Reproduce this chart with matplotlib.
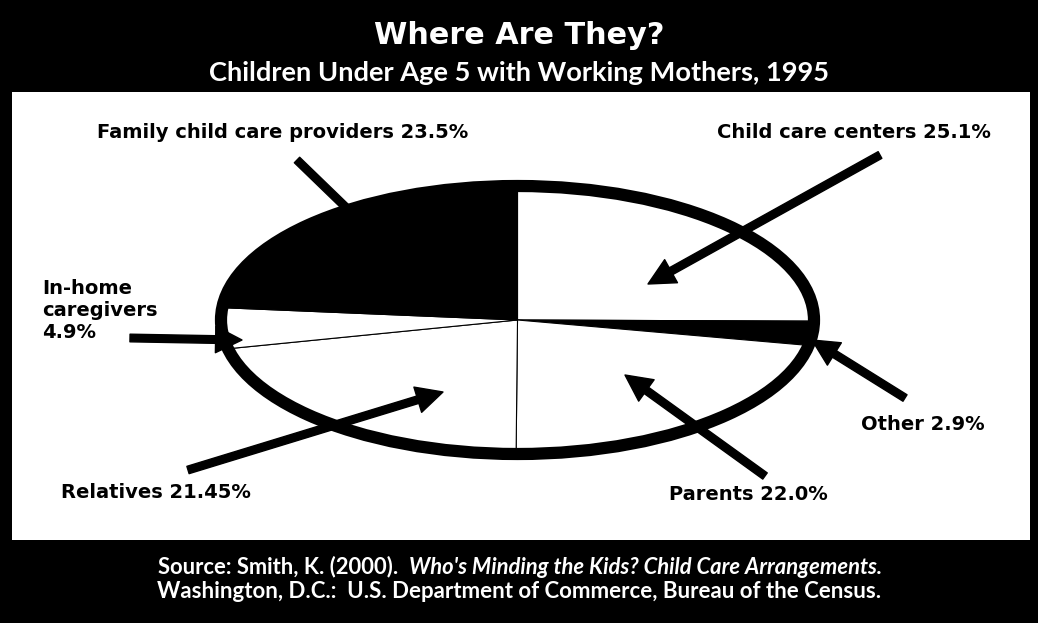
import matplotlib.pyplot as plt
from matplotlib.patches import Rectangle, Circle

# data (clockwise from the top)
categories = ['Child care centers', 'Other', 'Parents', 'Relatives',
              'In-home caregivers', 'Family child care providers']
shares = [25.1, 2.9, 22.0, 21.45, 4.9, 23.5]
fills = ['white', 'black', 'white', 'white', 'white', 'black']
labels = ['Child care centers 25.1%', 'Other 2.9%', 'Parents 22.0%',
          'Relatives 21.45%', 'In-home\ncaregivers\n4.9%',
          'Family child care providers 23.5%']

W, H = 1038, 623
plt.rcParams['font.family'] = ['Lato', 'DejaVu Sans']
heavy = ['DejaVu Sans']

fig = plt.figure(figsize=(W / 100, H / 100), dpi=100, facecolor='black')


def fx(x):
    return x / W


def fy(y):
    return 1 - y / H


# white panel
fig.patches.append(Rectangle((fx(12), fy(540)), fx(1030) - fx(12), fy(92) - fy(540),
                             transform=fig.transFigure, facecolor='white',
                             edgecolor='none', zorder=-5))

fig.text(0.5, fy(35), 'Where Are They?', color='white', ha='center', va='center',
         fontsize=21.8, fontweight='bold', family=heavy)
fig.text(0.5, fy(73), 'Children Under Age 5 with Working Mothers, 1995', color='white',
         ha='center', va='center', fontsize=19.6, fontweight='bold')

# elliptical pie
ax = fig.add_axes([fx(221), fy(454), fx(814) - fx(221), fy(186) - fy(454)])
ax.pie(shares, colors=fills, startangle=90, counterclock=False,
       wedgeprops=dict(edgecolor='black', linewidth=0.8))
ax.set_aspect('auto')
ax.set_xlim(-1, 1)
ax.set_ylim(-1, 1)
ax.axis('off')
ax.add_patch(Circle((0, 0), 1, fill=False, edgecolor='black', linewidth=8.8,
                    clip_on=False, zorder=5))

# label text positions and arrows (figure pixels)
label_pos = [(854, 133, 'center'), (923, 424, 'center'), (748, 495, 'center'),
             (156, 493, 'center'), (42, 311, 'left'), (283, 133, 'center')]
arrows = [((880, 155), (648, 284)), ((905, 398), (812, 340)),
          ((765, 476), (625, 375)), ((188, 470), (443, 392)),
          ((130, 338), (242, 340)), ((297, 160), (390, 250))]

for lab, (x, y, ha), (tail, tip) in zip(labels, label_pos, arrows):
    fig.text(fx(x), fy(y), lab, ha=ha, va='center', fontsize=14,
             fontweight='bold', family=heavy, color='black', linespacing=1.2,
             zorder=10)
    ax.annotate('', xy=(tip[0], H - tip[1]), xycoords='figure pixels',
                xytext=(tail[0], H - tail[1]), textcoords='figure pixels',
                arrowprops=dict(width=5.5, headwidth=19, headlength=19,
                                color='black', shrink=0), zorder=6)

# source
src = fig.text(fx(158), fy(567), 'Source: Smith, K. (2000).  ', color='white',
               ha='left', va='center', fontsize=15.8, fontweight='bold')
ax.annotate("Who's Minding the Kids? Child Care Arrangements.", xy=(1, 0.5),
            xycoords=src, ha='left', va='center', color='white', fontsize=15.8,
            fontweight='bold', fontstyle='italic', annotation_clip=False)
fig.text(0.5, fy(591), 'Washington, D.C.:  U.S. Department of Commerce, Bureau of the Census.',
         color='white', ha='center', va='center', fontsize=16, fontweight='bold')

fig.savefig('out.png', dpi=100, facecolor='black')
